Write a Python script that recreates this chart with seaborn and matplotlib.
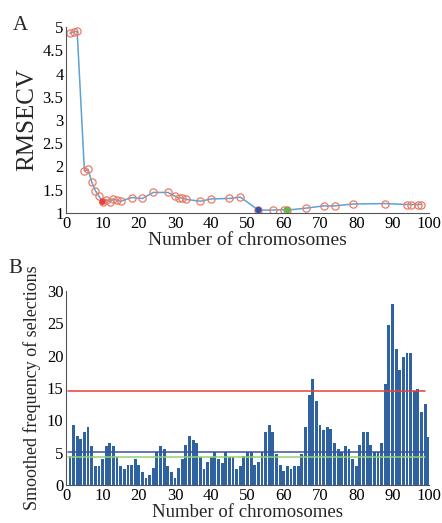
import numpy as np
import pandas as pd
import matplotlib
matplotlib.use("Agg")
import matplotlib.pyplot as plt
import seaborn as sns

# Panel A data
n_chrom = [1, 2, 3, 5, 6, 7, 8, 9, 10, 11, 12, 13, 14, 15, 18, 21, 24, 28, 30, 31,
           32, 33, 37, 40, 45, 48, 53, 57, 60, 61, 66, 71, 74, 79, 88, 94, 95, 97, 98]
rmsecv = [4.87, 4.90, 4.91, 1.90, 1.94, 1.67, 1.48, 1.36, 1.24, 1.28, 1.24, 1.30, 1.27, 1.25,
          1.33, 1.31, 1.44, 1.44, 1.36, 1.32, 1.32, 1.29, 1.25, 1.30, 1.31, 1.34, 1.06,
          1.06, 1.07, 1.06, 1.10, 1.15, 1.15, 1.19, 1.20, 1.18, 1.18, 1.18, 1.18]
best_x = [10, 53, 61]
best_y = [1.24, 1.06, 1.06]
best_colors = ["#E8403A", "#3B4FA8", "#5DBB4A"]

# Panel B data
chrom_idx = list(range(1, 101))
freq = [4.5, 9.3, 7.6, 7.2, 8.2, 9.0, 6.0, 3.0, 3.0, 4.0,
        6.0, 6.6, 6.0, 4.4, 3.0, 2.5, 3.2, 3.2, 4.0, 3.2,
        2.0, 1.2, 1.6, 2.6, 5.2, 6.0, 5.6, 3.0, 2.0, 1.2,
        2.6, 4.0, 6.2, 7.6, 7.0, 6.6, 4.4, 2.5, 3.6, 4.4,
        5.2, 4.0, 3.5, 5.2, 4.4, 4.4, 2.5, 3.0, 4.6, 5.2,
        5.2, 3.2, 3.6, 5.2, 8.2, 9.3, 8.2, 4.8, 3.2, 2.2,
        3.0, 2.5, 3.0, 3.0, 4.8, 9.0, 14.0, 16.4, 13.0, 9.3,
        8.5, 9.0, 8.7, 6.6, 5.6, 5.2, 6.0, 5.6, 4.0, 3.0,
        6.2, 8.2, 8.2, 6.2, 5.2, 5.2, 6.6, 15.6, 24.8, 28.0,
        21.0, 17.8, 19.8, 20.4, 20.4, 14.6, 14.8, 11.3, 12.6, 7.5]
thresholds = [14.6, 5.1, 4.4]
threshold_colors = ["#E8403A", "#3B4FA8", "#8FD46E"]

sns.set_style("white")
plt.rcParams["font.family"] = ["Liberation Serif", "DejaVu Serif"]

fig = plt.figure(figsize=(4.42, 5.23), dpi=100)
axA = fig.add_axes([0.150, 0.593, 0.820, 0.355])
axB = fig.add_axes([0.150, 0.072, 0.820, 0.372])

dfA = pd.DataFrame({"n": n_chrom, "r": rmsecv})
sns.lineplot(data=dfA, x="n", y="r", ax=axA, color="#5BA3D9", linewidth=1.1,
             estimator=None, sort=False)
sns.lineplot(data=dfA, x="n", y="r", ax=axA, linestyle="", marker="o",
             markersize=5.2, markerfacecolor="none", markeredgecolor="#EC7A63",
             markeredgewidth=0.9, estimator=None, sort=False)
dfBest = pd.DataFrame({"n": best_x, "r": best_y, "c": ["a", "b", "c"]})
sns.scatterplot(data=dfBest, x="n", y="r", hue="c", palette=best_colors, ax=axA,
                s=22, marker="o", edgecolor="none", legend=False, zorder=5)
axA.set_xlim(0, 100)
axA.set_ylim(1, 5)
axA.set_xticks(range(0, 101, 10))
axA.set_yticks([1, 1.5, 2, 2.5, 3, 3.5, 4, 4.5, 5])
axA.set_yticklabels(["1", "1.5", "2", "2.5", "3", "3.5", "4", "4.5", "5"])
axA.set_xlabel("Number of chromosomes", fontsize=14, labelpad=0)
axA.set_ylabel("RMSECV", fontsize=18, labelpad=3)

dfB = pd.DataFrame({"x": chrom_idx, "f": freq})
sns.barplot(data=dfB, x="x", y="f", ax=axB, color="#2F62A0", native_scale=True,
            width=0.78, saturation=1, edgecolor="none")
for t, c in zip(thresholds, threshold_colors):
    axB.axhline(t, xmin=0.006, xmax=0.99, color=c, linewidth=1.1)
axB.set_xlim(0, 100)
axB.set_ylim(0, 30)
axB.set_xticks(range(0, 101, 10))
axB.set_yticks(range(0, 31, 5))
axB.set_xlabel("Number of chromosomes", fontsize=13.5, labelpad=0)
axB.set_ylabel("Smoothed frequency of selections", fontsize=13, labelpad=4)

for ax in (axA, axB):
    for s in ("top", "right"):
        ax.spines[s].set_visible(False)
    for s in ("left", "bottom"):
        ax.spines[s].set_color("#555555")
        ax.spines[s].set_linewidth(0.8)
    ax.tick_params(axis="both", direction="in", length=3, width=0.7,
                   labelsize=12, pad=2, colors="#222222", labelcolor="black")

fig.text(0.030, 0.942, "A", fontsize=15)
fig.text(0.018, 0.478, "B", fontsize=15)

fig.savefig("out.png", dpi=100)
